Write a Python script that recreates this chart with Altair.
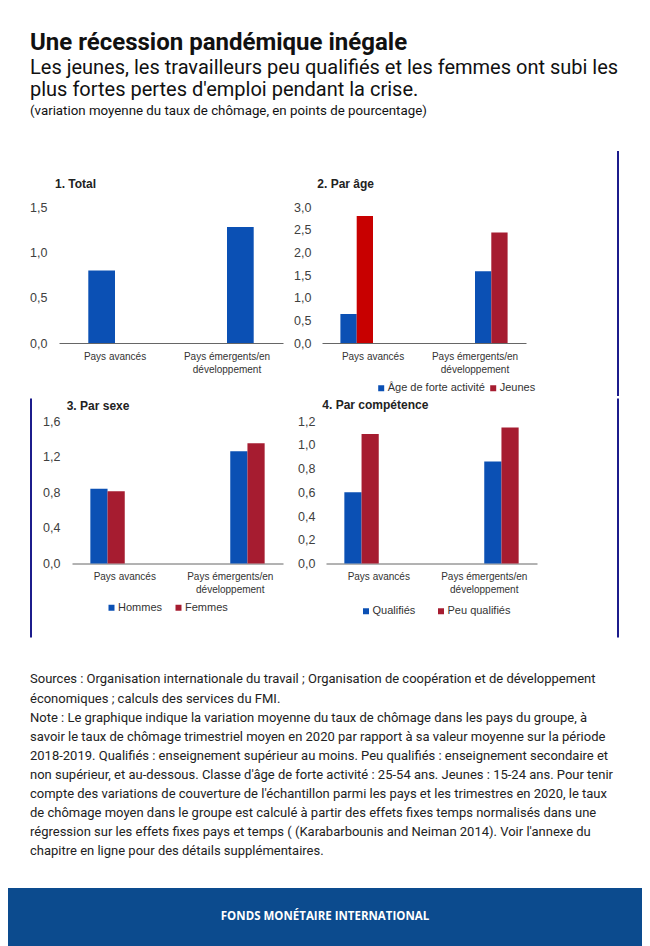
import altair as alt
import pandas as pd

# ---------------- data ----------------
groups = ["Pays avancés", "Pays émergents/en développement"]

total_values = [0.80, 1.28]

age_series = ["Âge de forte activité", "Jeunes"]
age_prime = [0.64, 1.58]
age_youth = [2.80, 2.44]

sex_series = ["Hommes", "Femmes"]
sex_men = [0.84, 1.26]
sex_women = [0.81, 1.35]

skill_series = ["Qualifiés", "Peu qualifiés"]
skill_high = [0.60, 0.86]
skill_low = [1.09, 1.145]

panel_titles = ["1. Total", "2. Par âge", "3. Par sexe", "4. Par compétence"]

title_text = "Une récession pandémique inégale"
subtitle_lines = [
    "Les jeunes, les travailleurs peu qualifiés et les femmes ont subi les",
    "plus fortes pertes d'emploi pendant la crise.",
]
unit_line = "(variation moyenne du taux de chômage, en points de pourcentage)"

notes_lines = [
    "Sources : Organisation internationale du travail ; Organisation de coopération et de développement",
    "économiques ; calculs des services du FMI.",
    "Note : Le graphique indique la variation moyenne du taux de chômage dans les pays du groupe, à",
    "savoir le taux de chômage trimestriel moyen en 2020 par rapport à sa valeur moyenne sur la période",
    "2018-2019. Qualifiés : enseignement supérieur au moins. Peu qualifiés : enseignement secondaire et",
    "non supérieur, et au-dessous. Classe d'âge de forte activité : 25-54 ans. Jeunes : 15-24 ans. Pour tenir",
    "compte des variations de couverture de l'échantillon parmi les pays et les trimestres en 2020, le taux",
    "de chômage moyen dans le groupe est calculé à partir des effets fixes temps normalisés dans une",
    "régression sur les effets fixes pays et temps ( (Karabarbounis and Neiman 2014). Voir l'annexe du",
    "chapitre en ligne pour des détails supplémentaires.",
]
footer_text = "FONDS MONÉTAIRE INTERNATIONAL"

# ---------------- styles ----------------
FN = "Liberation Sans Narrow, Arial Narrow, Liberation Sans, Arial, sans-serif"
BLUE = "#0b50b4"
RED = "#a61c30"
RED_BRIGHT = "#c80000"
FRAME = "#1c1c8c"
FOOT = "#0c4b8e"

XLAB = ("datum.label == 'Pays émergents/en développement' ? "
        "['Pays émergents/en', 'développement'] : datum.label")
YLAB = "replace(format(datum.value, '.1f'), '.', ',')"


def long_df(series, a, b):
    rows = []
    for gi, g in enumerate(groups):
        for s, vals in zip(series, [a, b]):
            rows.append({"group": g, "series": s, "value": vals[gi], "key": g + " | " + s})
    return pd.DataFrame(rows)


def legend(x, y, colpad):
    return alt.Legend(title=None, orient="none", legendX=x, legendY=y, direction="horizontal",
                      symbolType="square", symbolSize=36, symbolStrokeWidth=0,
                      labelFont=FN, labelFontSize=11, labelColor="#333333", labelOffset=1,
                      columnPadding=colpad, padding=0, rowPadding=0)


def panel(df, title, off_field, off_domain, width, height, r0, slot, ymax, ystep, lpad,
          color, t_dx, t_off, frame=None):
    nslots = len(off_domain)
    step = (width - r0) / 2.0
    pi = 1 - nslots * slot / step
    nt = int(round(ymax / ystep))
    yvals = [round(i * ystep, 3) for i in range(nt + 1)]
    bars = alt.Chart(df).mark_bar().encode(
        x=alt.X("group:N", sort=groups, title=None,
                scale=alt.Scale(range=[r0, width], paddingInner=pi, paddingOuter=pi / 2),
                axis=alt.Axis(labelAngle=0, ticks=False, domainColor="#666666", domainWidth=1,
                              labelExpr=XLAB, labelFont=FN, labelFontSize=10, labelColor="#333333",
                              labelPadding=8, labelLineHeight=13, labelLimit=300)),
        xOffset=alt.XOffset(f"{off_field}:N", sort=off_domain,
                            scale=alt.Scale(domain=off_domain, paddingInner=0, paddingOuter=0)),
        y=alt.Y("value:Q", title=None, scale=alt.Scale(domain=[0, ymax], nice=False),
                axis=alt.Axis(values=yvals, labelExpr=YLAB, offset=-r0, labelPadding=lpad,
                              ticks=False, domain=False, grid=False, labelFont=FN,
                              labelFontSize=12.5, labelColor="#404040")),
        color=color,
    )
    layers = [bars]
    if frame is not None:
        fx, fy1, fy2 = frame
        layers.append(
            alt.Chart(pd.DataFrame({"f": [0]})).mark_rule(color=FRAME, strokeWidth=2).encode(
                x=alt.value(fx), y=alt.value(fy1), y2=alt.value(fy2))
        )
    return alt.layer(*layers).properties(
        width=width, height=height,
        title=alt.TitleParams(title, anchor="start", frame="group", dx=t_dx, offset=t_off,
                              baseline="middle", font=FN, fontSize=12, fontWeight="bold",
                              color="#222222"))


# panel 1
df_total = pd.DataFrame({"group": groups, "value": total_values})
p1 = panel(df_total, panel_titles[0], "group", groups, 275, 136, 51, 26.7, 1.5, 0.5, 12,
           alt.value(BLUE), 47, 4.7)

# panel 2
df_age = long_df(age_series, age_prime, age_youth)
keys_age = [g + " | " + s for g in groups for s in age_series]
col_age = alt.condition(
    "datum.group == 'Pays avancés' && datum.series == 'Jeunes'",
    alt.value(RED_BRIGHT),
    alt.Color("series:N", sort=age_series,
              scale=alt.Scale(domain=age_series, range=[BLUE, RED]),
              legend=legend(92.7, 175.5, 2)))
p2 = panel(df_age, panel_titles[1], "key", keys_age, 243, 136, 39, 16.3, 3.0, 0.5, 11,
           col_age, 34.3, -46.3, frame=(335, -56, 189))

# panel 3
df_sex = long_df(sex_series, sex_men, sex_women)
keys_sex = [g + " | " + s for g in groups for s in sex_series]
col_sex = alt.Color("series:N", sort=sex_series,
                    scale=alt.Scale(domain=sex_series, range=[BLUE, RED]),
                    legend=legend(98, 181, 10))
p3 = panel(df_sex, panel_titles[2], "key", keys_sex, 275, 142.5, 64, 17.2, 1.6, 0.4, 12,
           col_sex, 58.7, -20.5, frame=(23, -22.5, 216.5))

# panel 4
df_skill = long_df(skill_series, skill_high, skill_low)
keys_skill = [g + " | " + s for g in groups for s in skill_series]
col_skill = alt.Color("series:N", sort=skill_series,
                      scale=alt.Scale(domain=skill_series, range=[BLUE, RED]),
                      legend=legend(77.5, 184.5, 20))
p4 = panel(df_skill, panel_titles[3], "key", keys_skill, 254, 142.5, 43, 17.2, 1.2, 0.2, 11,
           col_skill, 39.3, -19, frame=(335, -22.5, 216.5))

row1 = alt.hconcat(p1, p2, spacing=0).resolve_scale(
    color="independent", xOffset="independent", x="independent", y="independent"
).resolve_legend(color="independent").properties(
    title=alt.TitleParams(unit_line, anchor="start", dx=22, offset=21.5, baseline="alphabetic",
                          font="Roboto", fontSize=13.3, fontWeight="normal", color="#111111"))
row2 = alt.hconcat(p3, p4, spacing=0).resolve_scale(
    color="independent", xOffset="independent", x="independent", y="independent"
).resolve_legend(color="independent")

# notes
df_notes = pd.DataFrame({"i": list(range(len(notes_lines))), "t": notes_lines})
notes = alt.Chart(df_notes).mark_text(align="left", baseline="middle", font="Roboto",
                                      fontSize=13, color="#222222").encode(
    x=alt.value(22),
    y=alt.Y("i:Q", axis=None, scale=alt.Scale(domain=[-2.12, 10.89], reverse=True, nice=False, zero=False)),
    text="t:N",
).properties(width=634, height=248.5)

# footer
footer = alt.Chart(pd.DataFrame({"t": [footer_text]})).mark_text(
    font="Open Sans", fontWeight="bold", fontSize=11.5, color="white",
    align="center", baseline="middle").encode(
    text="t:N", x=alt.value(317), y=alt.value(29)
).properties(width=634, height=60, view=alt.ViewBackground(fill=FOOT, stroke=None))

chart = alt.vconcat(row1, row2, notes, footer, spacing=0).resolve_scale(
    color="independent", xOffset="independent", x="independent", y="independent"
).resolve_legend(color="independent").properties(
    title=alt.TitleParams(title_text, subtitle=subtitle_lines, anchor="start", dx=22,
                          font="Roboto", fontSize=24, fontWeight="bold", color="#111111",
                          subtitleFont="Roboto", subtitleFontSize=20, subtitleColor="#111111",
                          subtitleLineHeight=22.4, subtitlePadding=3, offset=4),
    padding={"left": 0, "top": 22, "right": 0, "bottom": 0},
    background="white",
).configure_view(stroke=None).configure_axis(grid=False)

chart.save("out.html", embed_options={"renderer": "svg", "actions": False})
